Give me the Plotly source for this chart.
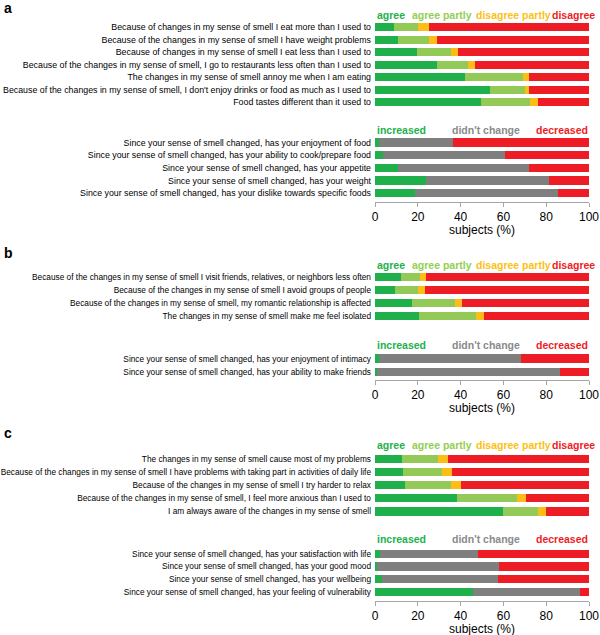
import plotly.graph_objects as go

# ---------------- data ----------------
a_top_labels = [
    "Because of changes in my sense of smell I eat more than I used to",
    "Because of the changes in my sense of smell I have weight problems",
    "Because of changes in my sense of smell I eat less than I used to",
    "Because of the changes in my sense of smell, I go to restaurants less often than I used to",
    "The changes in my sense of smell annoy me when I am eating",
    "Because of the changes in my sense of smell, I don't enjoy drinks or food as much as I used to",
    "Food tastes different than it used to",
]
a_top_agree = [9.0, 10.9, 19.5, 29.0, 42.1, 53.7, 49.5]
a_top_agree_partly = [11.2, 14.5, 16.0, 14.3, 27.1, 16.5, 22.8]
a_top_disagree_partly = [5.0, 3.4, 3.3, 3.4, 2.9, 1.8, 3.9]
a_top_disagree = [74.8, 71.2, 61.2, 53.3, 27.9, 28.0, 23.8]

a_bot_labels = [
    "Since your sense of smell changed, has your enjoyment of food",
    "Since your sense of smell changed, has your ability to cook/prepare food",
    "Since your sense of smell changed, has your appetite",
    "Since your sense of smell changed, has your weight",
    "Since your sense of smell changed, has your dislike towards specific foods",
]
a_bot_increased = [2.0, 3.7, 10.7, 23.8, 18.7]
a_bot_no_change = [34.3, 57.0, 61.4, 57.7, 66.7]
a_bot_decreased = [63.7, 39.3, 27.9, 18.5, 14.6]

b_top_labels = [
    "Because of the changes in my sense of smell I visit friends, relatives, or neighbors less often",
    "Because of the changes in my sense of smell I avoid groups of people",
    "Because of the changes in my sense of smell, my romantic relationship is affected",
    "The changes in my sense of smell make me feel isolated",
]
b_top_agree = [12.1, 9.3, 17.1, 20.6]
b_top_agree_partly = [8.9, 10.6, 20.4, 26.6]
b_top_disagree_partly = [3.0, 3.3, 3.0, 3.7]
b_top_disagree = [76.0, 76.8, 59.5, 49.1]

b_bot_labels = [
    "Since your sense of smell changed, has your enjoyment of intimacy",
    "Since your sense of smell changed, has your ability to make friends",
]
b_bot_increased = [1.9, 0.9]
b_bot_no_change = [66.3, 85.5]
b_bot_decreased = [31.8, 13.6]

c_top_labels = [
    "The changes in my sense of smell cause most of my problems",
    "Because of the changes in my sense of smell I have problems with taking part in activities of daily life",
    "Because of the changes in my sense of smell I try harder to relax",
    "Because of the changes in my sense of smell, I feel more anxious than I used to",
    "I am always aware of the changes in my sense of smell",
]
c_top_agree = [12.5, 12.9, 13.9, 38.3, 59.8]
c_top_agree_partly = [16.9, 18.3, 21.6, 27.9, 16.4]
c_top_disagree_partly = [4.7, 4.8, 4.5, 4.4, 3.6]
c_top_disagree = [65.9, 64.0, 60.0, 29.4, 20.2]

c_bot_labels = [
    "Since your sense of smell changed, has your satisfaction with life",
    "Since your sense of smell changed, has your good mood",
    "Since your sense of smell changed, has your wellbeing",
    "Since your sense of smell changed, has your feeling of vulnerability",
]
c_bot_increased = [2.2, 1.1, 3.4, 45.6]
c_bot_no_change = [45.8, 56.7, 54.1, 50.0]
c_bot_decreased = [52.0, 42.2, 42.5, 4.4]

x_ticks = [0, 20, 40, 60, 80, 100]
agree_names = ["agree", "agree partly", "disagree partly", "disagree"]
change_names = ["increased", "didn't change", "decreased"]
panel_letters = ["a", "b", "c"]

# ---------------- styles ----------------
FONT = "Liberation Sans"
W, H = 600, 635
GREEN, LGREEN, YELLOW, RED, GRAY = "#1fb04b", "#93c956", "#fbbd16", "#ee1d25", "#7f7f7f"
agree_colors = [GREEN, LGREEN, YELLOW, RED]
agree_text_colors = ["#22b14c", "#92cf52", "#fcbf12", "#ee1d25"]
change_colors = [GREEN, GRAY, RED]
change_text_colors = ["#22b14c", "#8a8a8a", "#ee1d25"]

X0, X1 = 375, 589  # pixel extent of 0..100
def py(p):
    return 1 - p / H

# (labels, series, colors, names, first_center_px, step_px, axis_px, header_px, bottom_axis, label_size)
subplots = [
    (a_top_labels, [a_top_agree, a_top_agree_partly, a_top_disagree_partly, a_top_disagree],
     agree_colors, agree_names, 27.0, 12.55, None, 15, False, 8.8),
    (a_bot_labels, [a_bot_increased, a_bot_no_change, a_bot_decreased],
     change_colors, change_names, 142.5, 12.67, 202, 130, True, 8.8),
    (b_top_labels, [b_top_agree, b_top_agree_partly, b_top_disagree_partly, b_top_disagree],
     agree_colors, agree_names, 277.0, 13.1, None, 264.5, False, 8.3),
    (b_bot_labels, [b_bot_increased, b_bot_no_change, b_bot_decreased],
     change_colors, change_names, 358.7, 13.3, 380, 345, True, 8.3),
    (c_top_labels, [c_top_agree, c_top_agree_partly, c_top_disagree_partly, c_top_disagree],
     agree_colors, agree_names, 459.0, 13.08, None, 445, False, 8.3),
    (c_bot_labels, [c_bot_increased, c_bot_no_change, c_bot_decreased],
     change_colors, change_names, 553.7, 12.77, 601, 539, True, 8.3),
]

fig = go.Figure()
layout = dict(
    width=W, height=H, margin=dict(l=0, r=0, t=0, b=0, autoexpand=False),
    paper_bgcolor="white", plot_bgcolor="white",
    barmode="stack", showlegend=False,
    font=dict(family=FONT, color="black"),
)
annotations = []

agree_hdr_x = [375, 410, 474, 550]
change_hdr_x = [375, 450, 534]

for i, (labels, series, colors, names, c0, step, axis_px, hdr_px, bottom, lsize) in enumerate(subplots):
    k = i + 1
    xa = "x" if k == 1 else f"x{k}"
    ya = "y" if k == 1 else f"y{k}"
    n = len(labels)
    top_px = c0 - step / 2
    if axis_px is None:
        bot_px = c0 + (n - 1) * step + step / 2
    else:
        bot_px = axis_px
    rng_bottom = (bot_px - top_px) / step - 0.5
    for vals, col, nm in zip(series, colors, names):
        fig.add_trace(go.Bar(
            x=vals, y=list(range(n)), orientation="h", name=nm,
            marker=dict(color=col, line=dict(width=0)), width=0.64,
            xaxis=xa, yaxis=ya, hoverinfo="x+name",
        ))
    xkey = "xaxis" if k == 1 else f"xaxis{k}"
    ykey = "yaxis" if k == 1 else f"yaxis{k}"
    layout[xkey] = dict(
        domain=[X0 / W, X1 / W], range=[0, 100], anchor=ya,
        showgrid=False, zeroline=False, fixedrange=True, automargin=False,
        visible=bottom,
        showline=bottom, linecolor="#a6a6a6", linewidth=1,
        ticks="outside" if bottom else "", ticklen=4, tickcolor="#a6a6a6",
        tickvals=x_ticks, ticktext=[str(t) for t in x_ticks],
        tickfont=dict(size=12, family=FONT, color="black"),
    )
    layout[ykey] = dict(
        domain=[py(bot_px), py(top_px)], range=[rng_bottom, -0.5], anchor=xa,
        tickvals=list(range(n)), ticktext=labels, automargin=False,
        showgrid=False, zeroline=False, showline=False, ticks="",
        tickfont=dict(size=lsize, family=FONT, color="black"),
        ticklabelstandoff=3, fixedrange=True,
    )
    hx = agree_hdr_x if len(names) == 4 else change_hdr_x
    tc = agree_text_colors if len(names) == 4 else change_text_colors
    for nm, x, c in zip(names, hx, tc):
        annotations.append(dict(
            text=f"<b>{nm}</b>", x=x / W, y=py(hdr_px), xref="paper", yref="paper",
            xanchor="left", yanchor="middle", showarrow=False,
            font=dict(size=10.5, family=FONT, color=c),
        ))
    if bottom:
        annotations.append(dict(
            text="subjects (%)", x=(X0 + X1) / 2 / W, y=py(axis_px + 28),
            xref="paper", yref="paper", xanchor="center", yanchor="middle",
            showarrow=False, font=dict(size=12, family=FONT, color="black"),
        ))

for letter, p in zip(panel_letters, [8, 253, 433]):
    annotations.append(dict(
        text=f"<b>{letter}</b>", x=2 / W, y=py(p), xref="paper", yref="paper",
        xanchor="left", yanchor="middle", showarrow=False,
        font=dict(size=14, family=FONT, color="black"),
    ))

layout["annotations"] = annotations
fig.update_layout(**layout)
fig.write_html(
    "out.html",
    config={"displayModeBar": False, "staticPlot": True},
    post_script="document.body.style.margin='0';document.body.style.padding='0';",
)
